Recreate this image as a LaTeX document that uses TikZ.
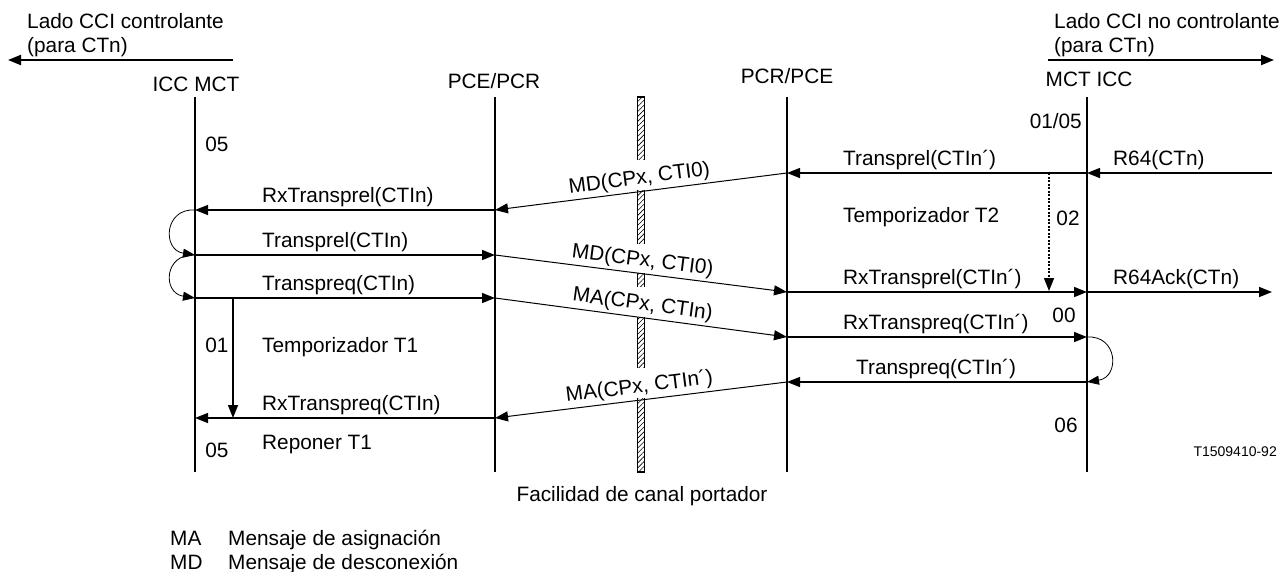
\documentclass[tikz,border=0pt]{standalone}
\usepackage{fontspec}
\setmainfont{Liberation Sans}
\usetikzlibrary{arrows.meta,patterns.meta}
\begin{document}
\begin{tikzpicture}[x=1pt,y=-1pt,
  font=\fontsize{20.8}{25}\selectfont,
  life/.style={line width=2pt},
  msg/.style={line width=1.5pt,-{Triangle[length=13pt,width=10pt]}},
  slant/.style={line width=1pt,-{Triangle[length=13pt,width=10pt]}},
  loopar/.style={line width=0.8pt,-{Triangle[length=12pt,width=9pt]}},
  side/.style={line width=2pt,-{Triangle[length=13pt,width=10pt]}},
  lbl/.style={anchor=base west, inner sep=0pt},
  ctr/.style={anchor=base, inner sep=0pt},
  slbl/.style={sloped, above=3pt, inner sep=0pt, outer sep=0pt},
  gap/.style={fill=white},
  ]
\useasboundingbox (0,0) rectangle (1282,571);

% side labels
\node[lbl] (lc1) at (27,28) {Lado CCI controlante};
\node[lbl] (lc2) at (27,52) {(para CTn)};
\coordinate (lcA) at (233,60);
\coordinate (lcB) at (8,60);
\draw[side] (lcA) -- (lcB);
\node[lbl] (rc1) at (1054,28) {Lado CCI no controlante};
\node[lbl] (rc2) at (1054,52) {(para CTn)};
\coordinate (rcA) at (1048,60);
\coordinate (rcB) at (1274,60);
\draw[side] (rcA) -- (rcB);

% heads
\node[ctr] (h1) at (196,91) {ICC MCT};
\node[ctr] (h2) at (494,88.5) {PCE/PCR};
\node[ctr] (h3) at (787,83.5) {PCR/PCE};
\node[ctr] (h4) at (1089,86.5) {MCT ICC};

% lifelines
\coordinate (t1) at (195,97);  \coordinate (b1) at (195,472);
\coordinate (t2) at (495,97);  \coordinate (b2) at (495,472);
\coordinate (t3) at (787,97);  \coordinate (b3) at (787,472);
\coordinate (t4) at (1087,97); \coordinate (b4) at (1087,472);
\draw[life] (t1) -- (b1);
\draw[life] (t2) -- (b2);
\draw[life] (t3) -- (b3);
\draw[life] (t4) -- (b4);

% bearer channel, interrupted where the labels cross it
\draw[line width=1.3pt, pattern={Lines[angle=45,distance=3.5pt,line width=0.6pt]}] (637.5,97) rectangle (644.5,472);
\fill[gap] (635,160) rectangle (647,190);
\fill[gap] (635,244) rectangle (647,273);
\fill[gap] (635,287) rectangle (647,317);
\fill[gap] (635,368) rectangle (647,398);

% event points
\coordinate (A210) at (195,210); \coordinate (B210) at (495,210);
\coordinate (A255) at (195,255); \coordinate (B255) at (495,255);
\coordinate (A298) at (195,298); \coordinate (B298) at (495,298);
\coordinate (A418) at (195,418); \coordinate (B418) at (495,418);
\coordinate (C173) at (787,173); \coordinate (D173) at (1087,173); \coordinate (E173) at (1272,173);
\coordinate (C292) at (787,292); \coordinate (D292) at (1087,292); \coordinate (E292) at (1272,292);
\coordinate (C337) at (787,337); \coordinate (D337) at (1087,337);
\coordinate (C382) at (787,382); \coordinate (D382) at (1087,382);

% slanted message labels
\path (B210) -- (C173) node[midway, slbl] (m1) {MD(CPx, CTI0)};
\path (B255) -- (C292) node[midway, slbl] (m2) {MD(CPx, CTI0)};
\path (B298) -- (C337) node[midway, slbl] (m3) {MA(CPx, CTIn)};
\path (B418) -- (C382) node[midway, slbl] (m4) {MA(CPx, CTIn´)};

% slanted messages
\draw[slant] (C173) -- (B210);
\draw[slant] (B255) -- (C292);
\draw[slant] (B298) -- (C337);
\draw[slant] (C382) -- (B418);

% horizontal messages
\draw[msg] (E173) -- (D173);
\draw[msg] (D173) -- (C173);
\draw[msg] (B210) -- (A210);
\draw[msg] (A255) -- (B255);
\draw[msg] (A298) -- (B298);
\draw[msg] (C292) -- (D292);
\draw[msg] (D292) -- (E292);
\draw[msg] (C337) -- (D337);
\draw[msg] (D382) -- (C382);
\draw[msg] (B418) -- (A418);

% loops
\draw[loopar] (A210) .. controls (164,208) and (162,250) .. (A255);
\draw[loopar] (A255) .. controls (164,253) and (162,293) .. (A298);
\draw[loopar] (D337) .. controls (1118,335) and (1120,377) .. (D382);

% timers
\coordinate (T1a) at (233,298); \coordinate (T1b) at (233,418);
\draw[line width=1.5pt,-{Triangle[length=13pt,width=10pt]}] (T1a) -- (T1b);
\coordinate (T2a) at (1049,173); \coordinate (T2b) at (1049,291);
\draw[line width=1.5pt,dash pattern=on 2pt off 1.5pt,-{Triangle[length=13pt,width=10pt]}] (T2a) -- (T2b);

% message labels
\node[lbl] (n1) at (262,202) {RxTransprel(CTIn)};
\node[lbl] (n2) at (262,247) {Transprel(CTIn)};
\node[lbl] (n3) at (262,290) {Transpreq(CTIn)};
\node[lbl] (n4) at (262,410) {RxTranspreq(CTIn)};
\node[lbl] (n5) at (843,165) {Transprel(CTIn´)};
\node[lbl] (n6) at (843,284) {RxTransprel(CTIn´)};
\node[lbl] (n7) at (843,329) {RxTranspreq(CTIn´)};
\node[lbl] (n8) at (856,374) {Transpreq(CTIn´)};
\node[lbl] (n9) at (1113,165) {R64(CTn)};
\node[lbl] (n10) at (1113,284) {R64Ack(CTn)};

% states and timers text
\node[ctr] (s1) at (217,151) {05};
\node[anchor=base east, inner sep=0pt] (s2) at (1082,128.5) {01/05};
\node[ctr] (s3) at (1068,225) {02};
\node[ctr] (s4) at (1064,322) {00};
\node[ctr] (s5) at (1066,432) {06};
\node[ctr] (s6) at (217,352) {01};
\node[ctr] (s7) at (217,457) {05};
\node[lbl] (tt2) at (843,222) {Temporizador T2};
\node[lbl] (tt1) at (262,352) {Temporizador T1};
\node[lbl] (rt1) at (262,449.5) {Reponer T1};

% bottom
\node[ctr] (fac) at (642,501) {Facilidad de canal portador};
\node[anchor=base east, inner sep=0pt, font=\fontsize{14}{16}\selectfont] (ref) at (1277,456) {T1509410-92};
\node[lbl] (g1) at (170,545) {MA};
\node[lbl] (g2) at (228,545) {Mensaje de asignación};
\node[lbl] (g3) at (170,569) {MD};
\node[lbl] (g4) at (228,569) {Mensaje de desconexión};
\end{tikzpicture}
\end{document}
